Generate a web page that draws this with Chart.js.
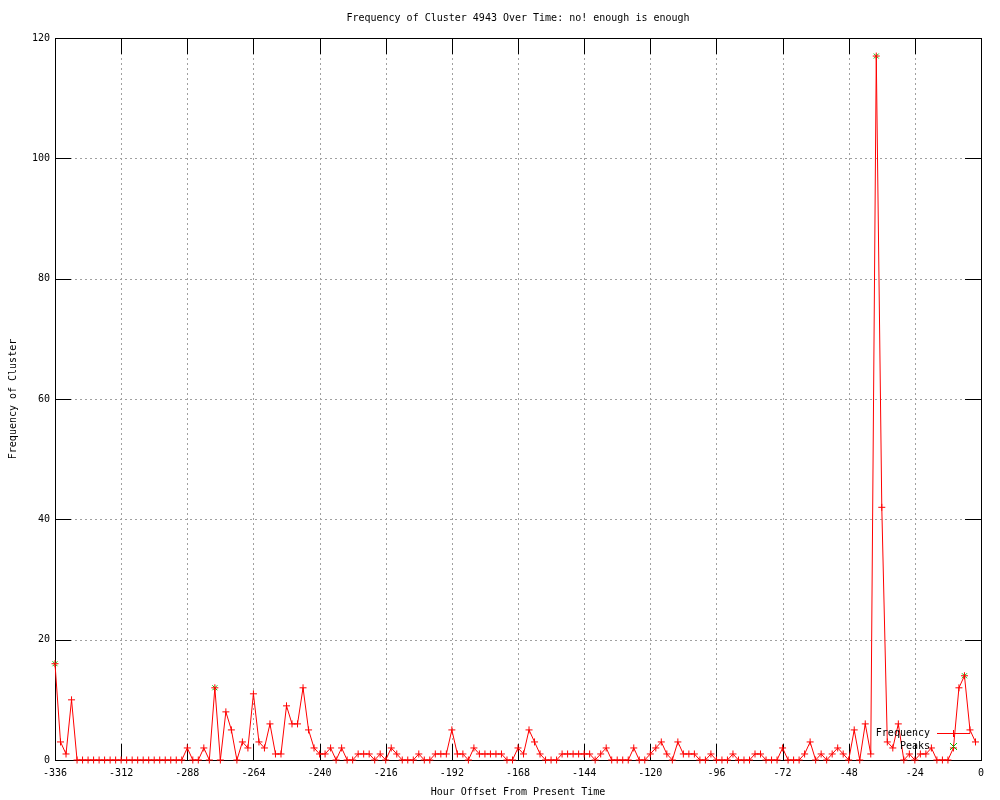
<!DOCTYPE html>
<html><head><meta charset="utf-8">
<script src="https://cdn.jsdelivr.net/npm/chart.js@4"></script>
<style>html,body{margin:0;padding:0;background:#fff}#wrap{width:1000px;height:800px}</style>
</head><body><div id="wrap"><canvas id="c" width="1000" height="800"></canvas></div>
<script>
// ---- data ----
const hours = [
  -336,-334,-332,-330,-328,-326,-324,-322,-320,-318,-316,-314,
  -312,-310,-308,-306,-304,-302,-300,-298,-296,-294,-292,-290,
  -288,-286,-284,-282,-280,-278,-276,-274,-272,-270,-268,-266,
  -264,-262,-260,-258,-256,-254,-252,-250,-248,-246,-244,-242,
  -240,-238,-236,-234,-232,-230,-228,-226,-224,-222,-220,-218,
  -216,-214,-212,-210,-208,-206,-204,-202,-200,-198,-196,-194,
  -192,-190,-188,-186,-184,-182,-180,-178,-176,-174,-172,-170,
  -168,-166,-164,-162,-160,-158,-156,-154,-152,-150,-148,-146,
  -144,-142,-140,-138,-136,-134,-132,-130,-128,-126,-124,-122,
  -120,-118,-116,-114,-112,-110,-108,-106,-104,-102,-100,-98,
  -96,-94,-92,-90,-88,-86,-84,-82,-80,-78,-76,-74,
  -72,-70,-68,-66,-64,-62,-60,-58,-56,-54,-52,-50,
  -48,-46,-44,-42,-40,-38,-36,-34,-32,-30,-28,-26,
  -24,-22,-20,-18,-16,-14,-12,-10,-8,-6,-4,-2
];
const frequency = [
  16,3,1,10,0,0,0,0,0,0,0,0,
  0,0,0,0,0,0,0,0,0,0,0,0,
  2,0,0,2,0,12,0,8,5,0,3,2,
  11,3,2,6,1,1,9,6,6,12,5,2,
  1,1,2,0,2,0,0,1,1,1,0,1,
  0,2,1,0,0,0,1,0,0,1,1,1,
  5,1,1,0,2,1,1,1,1,1,0,0,
  2,1,5,3,1,0,0,0,1,1,1,1,
  1,1,0,1,2,0,0,0,0,2,0,0,
  1,2,3,1,0,3,1,1,1,0,0,1,
  0,0,0,1,0,0,0,1,1,0,0,0,
  2,0,0,0,1,3,0,1,0,1,2,1,
  0,5,0,6,1,117,42,3,2,6,0,1,
  0,1,1,2,0,0,0,2,12,14,5,3
];
const peakHours = [-336, -278, -38, -6];
const peakValues = [16, 12, 117, 14];
const xTicks = [-336,-312,-288,-264,-240,-216,-192,-168,-144,-120,-96,-72,-48,-24,0];
const yTicks = [0,20,40,60,80,100,120];
const titleText = "Frequency of Cluster 4943 Over Time: no! enough is enough";
const xTitle = "Hour Offset From Present Time";
const yTitle = "Frequency of Cluster";
const seriesNames = ["Frequency", "Peaks"];

// ---- drawing ----
const FAMILY = '"DejaVu Sans Mono", "Liberation Mono", monospace';
const FONT = '10px ' + FAMILY;
const RED = '#ff0000', GREEN = '#00c000';

function drawPlus(ctx, x, y, r, color) {
  ctx.save(); ctx.strokeStyle = color; ctx.lineWidth = 1;
  ctx.beginPath(); ctx.moveTo(x - r, y); ctx.lineTo(x + r, y);
  ctx.moveTo(x, y - r); ctx.lineTo(x, y + r); ctx.stroke(); ctx.restore();
}
function drawX(ctx, x, y, r, color) {
  ctx.save(); ctx.strokeStyle = color; ctx.lineWidth = 1;
  ctx.beginPath(); ctx.moveTo(x - r, y - r); ctx.lineTo(x + r, y + r);
  ctx.moveTo(x - r, y + r); ctx.lineTo(x + r, y - r); ctx.stroke(); ctx.restore();
}

const frame = {
  id: 'frame',
  beforeDatasetsDraw(chart) {
    const ctx = chart.ctx, a = chart.chartArea;
    const xs = chart.scales.x, ys = chart.scales.y;
    ctx.save();
    // dotted grid
    ctx.strokeStyle = '#a0a0a0'; ctx.lineWidth = 1; ctx.setLineDash([2, 3]);
    ctx.beginPath();
    xTicks.forEach(v => {
      const px = Math.round(xs.getPixelForValue(v)) + 0.5;
      if (px > a.left + 1 && px < a.right - 1) { ctx.moveTo(px, a.top); ctx.lineTo(px, a.bottom); }
    });
    yTicks.forEach(v => {
      const py = Math.round(ys.getPixelForValue(v)) + 0.5;
      if (py > a.top + 1 && py < a.bottom - 1) { ctx.moveTo(a.left, py); ctx.lineTo(a.right, py); }
    });
    ctx.stroke();
    ctx.setLineDash([]);
    // border
    ctx.strokeStyle = '#000';
    ctx.strokeRect(Math.round(a.left) + 0.5, Math.round(a.top) + 0.5,
                   Math.round(a.right - a.left), Math.round(a.bottom - a.top));
    // inward tick marks on all sides
    const TL = 16;
    ctx.beginPath();
    xTicks.forEach(v => {
      const px = Math.round(xs.getPixelForValue(v)) + 0.5;
      ctx.moveTo(px, a.bottom); ctx.lineTo(px, a.bottom - TL);
      ctx.moveTo(px, a.top); ctx.lineTo(px, a.top + TL);
    });
    yTicks.forEach(v => {
      const py = Math.round(ys.getPixelForValue(v)) + 0.5;
      ctx.moveTo(a.left, py); ctx.lineTo(a.left + TL, py);
      ctx.moveTo(a.right, py); ctx.lineTo(a.right - TL, py);
    });
    ctx.stroke();
    ctx.restore();
  },
  afterDraw(chart) {
    const ctx = chart.ctx, a = chart.chartArea;
    const cx = (a.left + a.right) / 2;
    ctx.save();
    ctx.fillStyle = '#000'; ctx.font = FONT; ctx.textBaseline = 'middle';
    ctx.textAlign = 'center';
    ctx.fillText(titleText, cx, 18);
    ctx.fillText(xTitle, cx, 792);
    ctx.save();
    ctx.translate(13, (a.top + a.bottom) / 2);
    ctx.rotate(-Math.PI / 2);
    ctx.fillText(yTitle, 0, 0);
    ctx.restore();
    // key
    ctx.textAlign = 'right';
    ctx.fillText(seriesNames[0], 930, 733);
    ctx.fillText(seriesNames[1], 930, 746);
    ctx.strokeStyle = RED; ctx.lineWidth = 1;
    ctx.beginPath(); ctx.moveTo(937, 733.5); ctx.lineTo(970, 733.5); ctx.stroke();
    drawPlus(ctx, 953.5, 733.5, 3.5, RED);
    drawX(ctx, 953.5, 746.5, 3.5, GREEN);
    ctx.restore();
  }
};

new Chart(document.getElementById('c'), {
  type: 'line',
  data: {
    datasets: [
      {
        label: seriesNames[0],
        data: hours.map((h, i) => ({ x: h, y: frequency[i] })),
        borderColor: RED, borderWidth: 1, tension: 0, fill: false, clip: false,
        pointStyle: 'cross', pointRadius: 3.5, pointBorderColor: RED,
        pointBackgroundColor: RED, pointBorderWidth: 1, pointHoverRadius: 3.5,
        order: 0
      },
      {
        label: seriesNames[1],
        data: peakHours.map((h, i) => ({ x: h, y: peakValues[i] })),
        showLine: false, clip: false,
        pointStyle: 'crossRot', pointRadius: 3.5, pointBorderColor: GREEN,
        pointBackgroundColor: GREEN, pointBorderWidth: 1,
        order: 1
      }
    ]
  },
  options: {
    responsive: false, animation: false, devicePixelRatio: 1,
    layout: { padding: { left: 0, right: 19, top: 38, bottom: 0 } },
    plugins: { legend: { display: false }, tooltip: { enabled: false }, title: { display: false } },
    events: [],
    scales: {
      x: {
        type: 'linear', min: -336, max: 0,
        afterBuildTicks: s => { s.ticks = xTicks.map(v => ({ value: v })); },
        afterFit: s => { s.height = 40; },
        grid: { display: false, drawTicks: false }, border: { display: false },
        ticks: { font: { family: FAMILY, size: 10 }, color: '#000', padding: 7, maxRotation: 0, minRotation: 0, autoSkip: false }
      },
      y: {
        type: 'linear', min: 0, max: 120,
        afterBuildTicks: s => { s.ticks = yTicks.map(v => ({ value: v })); },
        afterFit: s => { s.width = 55; },
        grid: { display: false, drawTicks: false }, border: { display: false },
        ticks: { font: { family: FAMILY, size: 10 }, color: '#000', padding: 5, autoSkip: false }
      }
    }
  },
  plugins: [frame]
});
</script>
</body></html>
